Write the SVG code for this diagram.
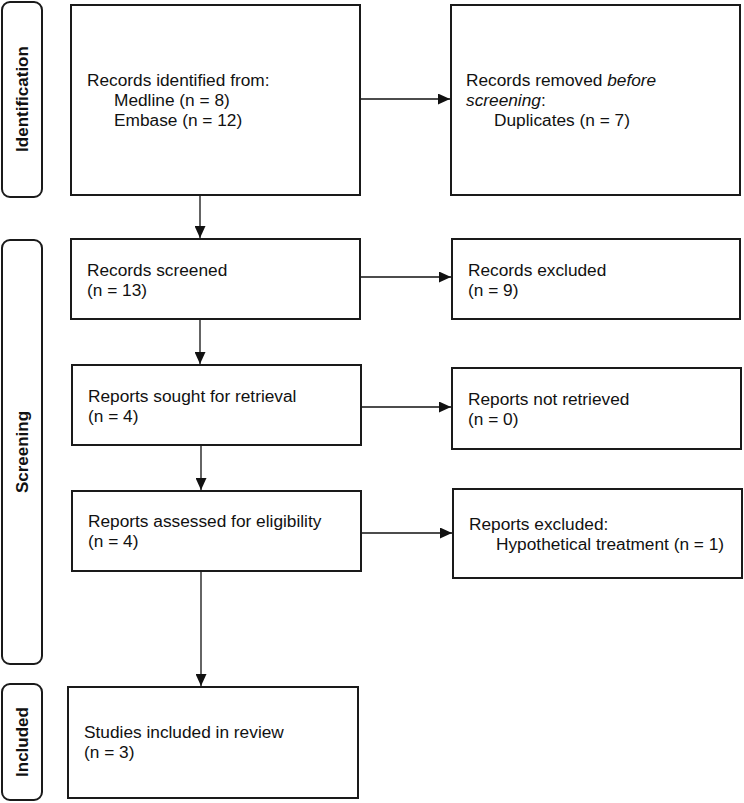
<svg xmlns="http://www.w3.org/2000/svg" width="744" height="803" viewBox="0 0 744 803">
<style>
.box{fill:#fff;stroke:#1a1a1a;stroke-width:2}
.side{fill:#fff;stroke:#1a1a1a;stroke-width:2}
.t{font-family:"Liberation Sans",Arial,sans-serif;font-size:17.3px;fill:#111}
.s{font-family:"Liberation Sans",Arial,sans-serif;font-size:17px;font-weight:bold;fill:#111;text-anchor:middle}
.c{stroke:#111;stroke-width:1.3;fill:none;marker-end:url(#ah)}
</style>
<defs>
<marker id="ah" markerWidth="12" markerHeight="11" refX="12" refY="5.5" orient="auto" markerUnits="userSpaceOnUse">
<path d="M0,0 L12,5.5 L0,11 Z" fill="#111"/>
</marker>
</defs>
<rect width="744" height="803" fill="#fff"/>
<g id="lbl-identification">
<rect class="side" x="2" y="2" width="40" height="195" rx="8"/>
<text class="s" transform="translate(28,99) rotate(-90)">Identification</text>
</g>
<g id="lbl-screening">
<rect class="side" x="2" y="240" width="40" height="424" rx="8"/>
<text class="s" transform="translate(28,452) rotate(-90)">Screening</text>
</g>
<g id="lbl-included">
<rect class="side" x="2" y="684" width="40" height="116" rx="8"/>
<text class="s" transform="translate(28,742) rotate(-90)">Included</text>
</g>
<g id="identified">
<rect class="box" x="71" y="5" width="289" height="190"/>
<text class="t" x="87" y="86">Records identified from:</text>
<text class="t" x="114" y="106">Medline (n = 8)</text>
<text class="t" x="114" y="126">Embase (n = 12)</text>
</g>
<g id="removed">
<rect class="box" x="451" y="5" width="289" height="190"/>
<text class="t" x="466" y="86">Records removed <tspan font-style="italic">before</tspan></text>
<text class="t" x="466" y="106"><tspan font-style="italic">screening</tspan>:</text>
<text class="t" x="494" y="126">Duplicates (n = 7)</text>
</g>
<g id="screened">
<rect class="box" x="71" y="239" width="289" height="80"/>
<text class="t" x="87" y="276">Records screened</text>
<text class="t" x="87" y="296">(n = 13)</text>
</g>
<g id="excluded">
<rect class="box" x="452" y="239" width="288" height="80"/>
<text class="t" x="468" y="276">Records excluded</text>
<text class="t" x="468" y="296">(n = 9)</text>
</g>
<g id="sought">
<rect class="box" x="72" y="365" width="289" height="80"/>
<text class="t" x="88" y="402">Reports sought for retrieval</text>
<text class="t" x="88" y="422">(n = 4)</text>
</g>
<g id="notretrieved">
<rect class="box" x="452" y="368" width="289" height="81"/>
<text class="t" x="468" y="405">Reports not retrieved</text>
<text class="t" x="468" y="425">(n = 0)</text>
</g>
<g id="assessed">
<rect class="box" x="72" y="491" width="289" height="80"/>
<text class="t" x="88" y="527">Reports assessed for eligibility</text>
<text class="t" x="88" y="547">(n = 4)</text>
</g>
<g id="reportsexcluded">
<rect class="box" x="453" y="489" width="289" height="89"/>
<text class="t" x="469" y="530">Reports excluded:</text>
<text class="t" x="496" y="550">Hypothetical treatment (n = 1)</text>
</g>
<g id="included">
<rect class="box" x="68" y="687" width="290" height="111"/>
<text class="t" x="84" y="738">Studies included in review</text>
<text class="t" x="84" y="758">(n = 3)</text>
</g>
<g id="connectors">
<line class="c" x1="361" y1="99" x2="450" y2="99"/>
<line class="c" x1="200" y1="196" x2="200" y2="238"/>
<line class="c" x1="361" y1="277" x2="451" y2="277"/>
<line class="c" x1="200" y1="320" x2="200" y2="364"/>
<line class="c" x1="362" y1="407" x2="451" y2="407"/>
<line class="c" x1="201" y1="446" x2="201" y2="490"/>
<line class="c" x1="362" y1="533" x2="452" y2="533"/>
<line class="c" x1="201" y1="572" x2="201" y2="686"/>
</g>
</svg>
